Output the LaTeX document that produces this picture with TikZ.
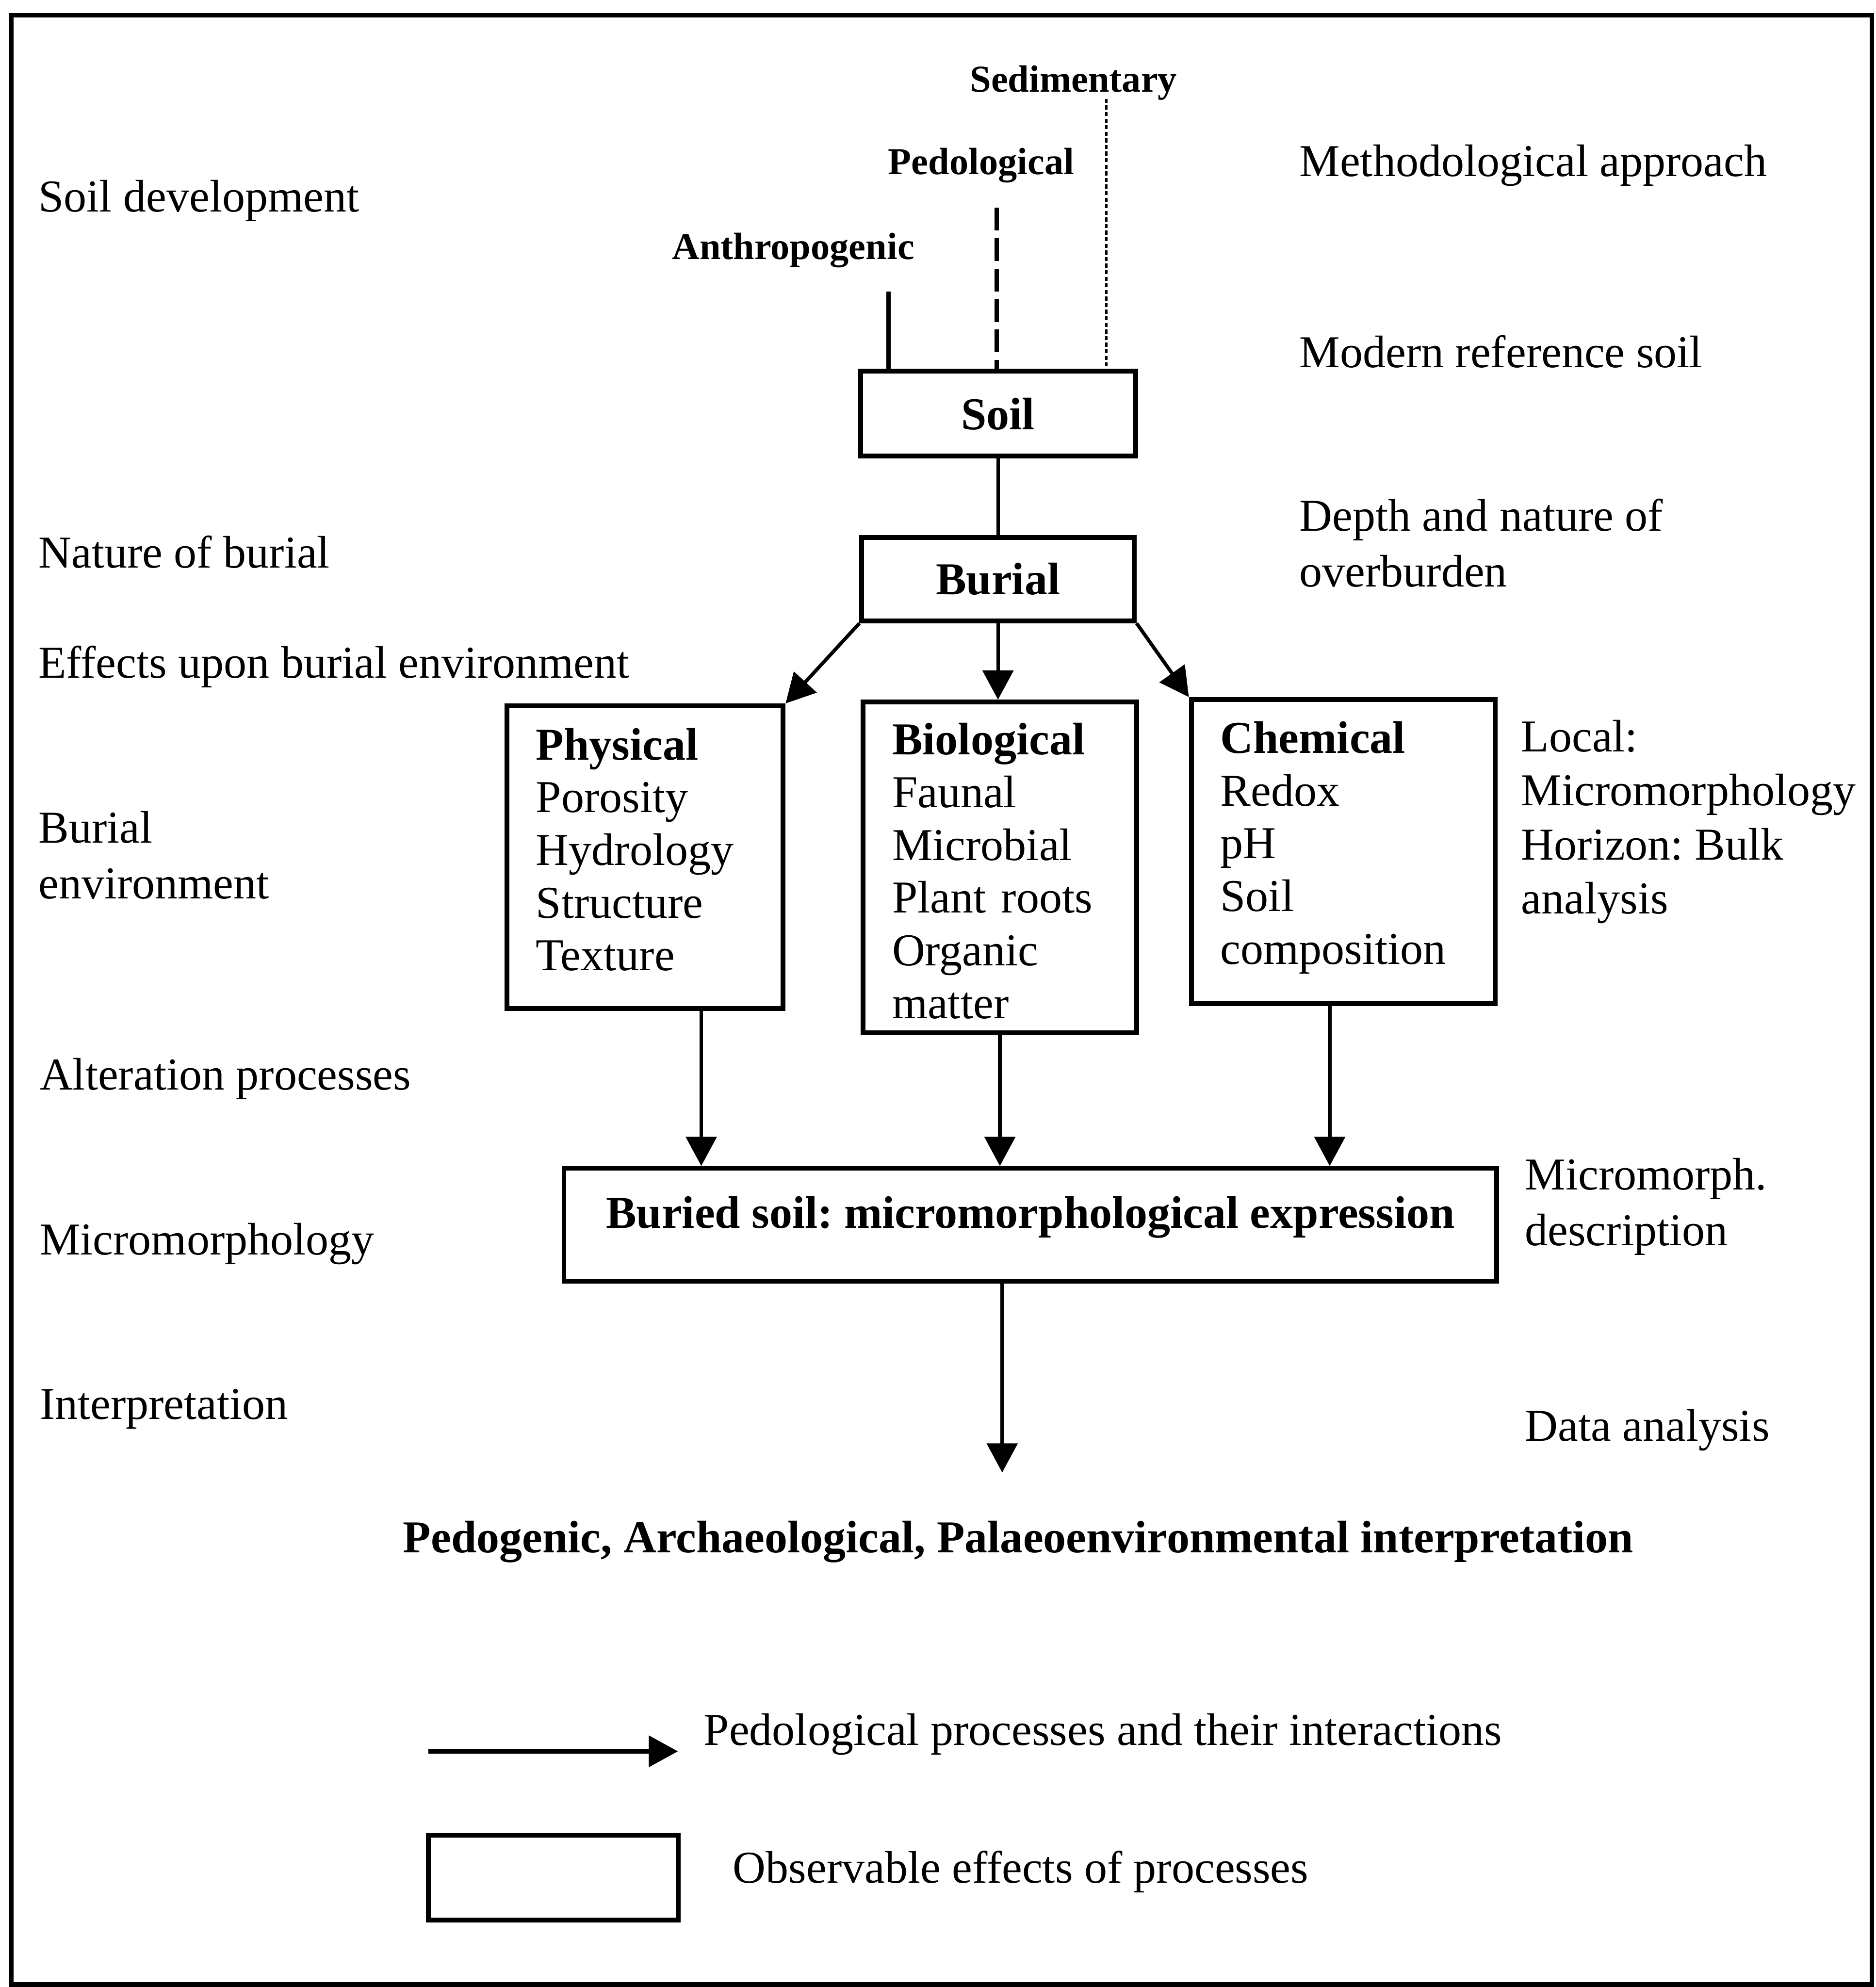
\documentclass[tikz,border=0pt]{standalone}
\usepackage{fontspec}
\setmainfont{Liberation Serif}
\frenchspacing
\usetikzlibrary{arrows.meta,calc}
\begin{document}
\begin{tikzpicture}[x=0.5pt,y=-0.5pt,
  lab/.style={inner sep=0pt, anchor=base west, align=left, font=\fontsize{18pt}{22pt}\selectfont},
  toplab/.style={inner sep=0pt, anchor=base west, font=\fontsize{15pt}{18pt}\selectfont\bfseries},
  boxnode/.style={draw, line width=1.9pt, inner sep=0pt, font=\fontsize{18pt}{20.8pt}\selectfont\bfseries},
  listbox/.style={draw, line width=1.9pt, inner xsep=11.5pt, inner ysep=0pt, align=left, font=\fontsize{18pt}{20.8pt}\selectfont},
  conn/.style={line width=1.4pt},
  arr/.style={line width=1.4pt, -{Triangle[length=11.5pt,width=12pt]}},
]
\frenchspacing
\useasboundingbox (0,0) rectangle (1480,1568);
% outer frame
\draw[line width=1.85pt] (9,12) rectangle (1477,1566);

% main boxes
\node[boxnode, minimum width=108.5pt, minimum height=33.5pt] (soil) at (787.5,326.5) {Soil};
\node[boxnode, minimum width=107.5pt, minimum height=33pt] (burial) at (787.5,457) {Burial};
\node[listbox, text width=86pt, minimum height=119.5pt] (phys) at (509,676.5)
  {\textbf{Physical}\\Porosity\\Hydrology\\Structure\\Texture\strut};
\node[listbox, text width=85pt, minimum height=130.5pt] (bio) at (789,684.5)
  {\textbf{Biological}\rule{0pt}{15.3pt}\\Faunal\\Microbial\\Plant roots\\Organic\\matter};
\node[listbox, text width=97pt, minimum height=120pt] (chem) at (1060,672)
  {\textbf{Chemical}\\Redox\\pH\\Soil\\composition\rule[-7pt]{0pt}{1pt}};
\node[boxnode, minimum width=368pt, text height=23.5pt, text depth=21pt] (buried) at (813,966.5)
  {Buried soil: micromorphological expression};
\node[draw, line width=1.9pt, minimum width=98.5pt, minimum height=33.5pt, inner sep=0pt] (legbox) at (436.5,1481.5) {};

% top labels and lines into Soil
\node[toplab] (sed) at (765,72.7) {Sedimentary};
\node[toplab] (ped) at (700.5,137.6) {Pedological};
\node[toplab] (anth) at (530,204.7) {Anthropogenic};
\coordinate (sedline) at (873,78);
\coordinate (pedline) at (786.5,164);
\coordinate (anthline) at (701,230);
\draw[line width=1.1pt, dash pattern=on 1.6pt off 1pt] (sedline) -- (sedline |- soil.north);
\draw[line width=1.6pt, dash pattern=on 9pt off 3pt] (pedline) -- (pedline |- soil.north);
\draw[line width=1.7pt] (anthline) -- (anthline |- soil.north);

% connectors
\draw[conn] (soil.south) -- (burial.north);
\draw[arr] (burial.south west) -- (phys.north east);
\draw[arr] (burial.south) -- (burial.south |- bio.north);
\draw[arr] (burial.south east) -- (chem.north west);

\coordinate (p1) at ($(phys.south west)!0.70!(phys.south east)$);
\draw[arr] (p1) -- (p1 |- buried.north);
\draw[arr] (bio.south) -- (bio.south |- buried.north);
\coordinate (c1) at ($(chem.south west)!0.456!(chem.south east)$);
\draw[arr] (c1) -- (c1 |- buried.north);
\coordinate (b1) at ($(buried.south west)!0.47!(buried.south east)$);
\coordinate (interpEnd) at (791,1162);
\draw[arr] (b1) -- (b1 |- interpEnd);

\node[inner sep=0pt, anchor=base, font=\fontsize{18pt}{20pt}\selectfont\bfseries] (interp) at (803.5,1225)
  {Pedogenic, Archaeological, Palaeoenvironmental interpretation};

% left column (base anchor = baseline of the last line)
\node[lab] (soildev) at (30,167) {Soil development};
\node[lab] (natburial) at (30,448) {Nature of burial};
\node[lab] (effects) at (30,535) {Effects upon burial environment};
\node[lab] (burenv) at (30,709) {Burial\\environment};
\node[lab] (alter) at (31,860) {Alteration processes};
\node[lab] (micro) at (31,990) {Micromorphology};
\node[lab] (interpl) at (31,1120) {Interpretation};

% right column
\node[lab] (method) at (1025,139) {Methodological approach};
\node[lab] (modern) at (1025,290) {Modern reference soil};
\node[lab] (depth) at (1025,463) {Depth and nature of\\overburden};
\node[lab, font=\fontsize{18pt}{21.3pt}\selectfont] (local) at (1200,721) {Local:\\Micromorphology\\Horizon: Bulk\\analysis};
\node[lab] (mdesc) at (1203,983) {Micromorph.\\description};
\node[lab] (data) at (1203,1137) {Data analysis};

% legend
\coordinate (legA) at (338,1382);
\coordinate (legB) at (535,1382);
\draw[line width=2pt, -{Triangle[length=11.5pt,width=12pt]}] (legA) -- (legB);
\node[lab] (legarrtext) at (555,1377) {Pedological processes and their interactions};
\node[lab] (legboxtext) at (578,1486) {Observable effects of processes};
\end{tikzpicture}
\end{document}
